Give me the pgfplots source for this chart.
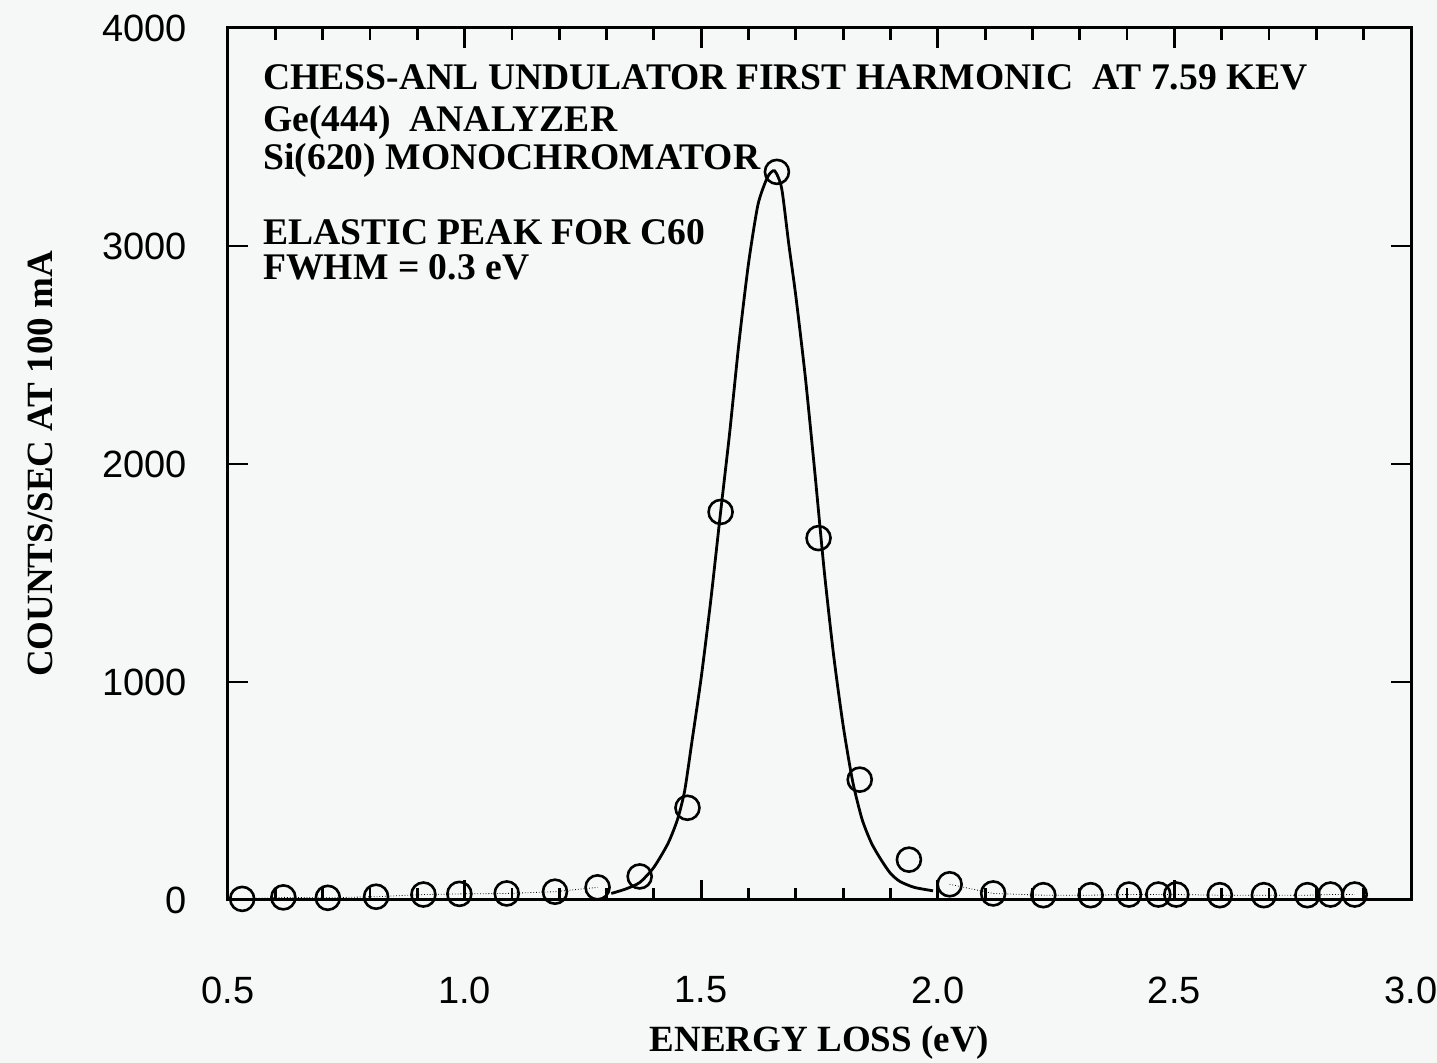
\documentclass[border=0pt]{standalone}
\usepackage{fontspec}
\setmainfont{Liberation Serif}
\setsansfont{Liberation Sans}
\usepackage{pgfplots}
\pgfplotsset{compat=1.18}
\definecolor{bg}{RGB}{246,248,248}

\pgfplotstableread{
x y
0.53 5
0.617 12
0.711 10
0.813 15
0.913 25
0.989 28
1.089 30
1.191 38
1.281 58
1.37 108
1.471 423
1.541 1780
1.66 3340
1.748 1660
1.835 552
1.939 185
2.025 72
2.117 30
2.223 22
2.323 22
2.404 25
2.466 25
2.504 25
2.596 22
2.689 22
2.781 22
2.83 25
2.881 25
}\datatable

\pgfplotstableread{
x y
1.31 30
1.34 50
1.37 80
1.40 150
1.43 260
1.45 370
1.465 500
1.48 720
1.50 1020
1.52 1370
1.54 1760
1.56 2140
1.58 2560
1.60 2920
1.62 3190
1.64 3315
1.655 3345
1.67 3265
1.685 3010
1.70 2770
1.72 2400
1.74 1965
1.76 1510
1.78 1120
1.80 800
1.82 545
1.84 370
1.86 260
1.88 185
1.90 122
1.92 85
1.95 58
1.99 42
}\fittable

\begin{document}
\begin{tikzpicture}[x=1pt,y=1pt]
\fill[bg] (-114,-81.5) rectangle (604.5,450);
\begin{axis}[
  at={(0,0)}, anchor=south west,
  scale only axis, width=591.5pt, height=436pt,
  xmin=0.5, xmax=3.0, ymin=0, ymax=4000,
  clip=false,
  xtick={0.5,1.0,1.5,2.0,2.5,3.0},
  xticklabels={0.5,1.0,1.5,2.0,2.5,3.0},
  minor x tick num=4,
  ytick={0,1000,2000,3000,4000},
  yticklabels={0,1000,2000,3000,4000},
  minor y tick num=0,
  tick align=inside,
  major tick length=10pt, minor tick length=6pt,
  axis line style={line width=1.5pt},
  every tick/.style={line width=1.4pt, black},
  xticklabel style={font=\sffamily\fontsize{19}{19}\selectfont, anchor=center, yshift=-45pt},
  yticklabel style={font=\sffamily\fontsize{19}{19}\selectfont, anchor=east, inner sep=0pt, xshift=-20.5pt},
  every axis x label/.style={at={(axis description cs:0.5,-0.163)}, anchor=center},
  every axis y label/.style={at={(axis description cs:-0.159,0.5)}, rotate=90, anchor=center},
  xlabel={\bfseries\fontsize{18.5}{18.5}\selectfont ENERGY LOSS (eV)},
  ylabel={\bfseries\fontsize{18.5}{18.5}\selectfont COUNTS/SEC AT 100 mA},
]
\addplot[densely dotted, thin, black] table[x=x,y=y, restrict x to domain=0.5:1.3] {\datatable};
\addplot[densely dotted, thin, black] table[x=x,y=y, restrict x to domain=2.0:2.9] {\datatable};
\addplot[line width=1.4pt, black, smooth, tension=0.4] table[x=x,y=y] {\fittable};
\addplot[only marks, mark=o, mark size=6pt, mark options={line width=1.3pt, black}] table[x=x,y=y] {\datatable};

\begin{scope}[every node/.style={anchor=base west, inner sep=0pt, font=\bfseries\fontsize{18.8}{18.8}\selectfont}]
\node at (rel axis cs:0.0296,0.929) {CHESS-ANL UNDULATOR FIRST HARMONIC\ \ AT 7.59 KEV};
\node at (rel axis cs:0.0296,0.881) {Ge(444)\ \ ANALYZER};
\node at (rel axis cs:0.0296,0.838) {Si(620) MONOCHROMATOR};
\node at (rel axis cs:0.0296,0.752) {ELASTIC PEAK FOR C60};
\node at (rel axis cs:0.0296,0.711) {FWHM = 0.3 eV};
\end{scope}
\end{axis}
\pgfresetboundingbox
\path (-114,-81.5) rectangle (604.5,450);
\end{tikzpicture}
\end{document}
